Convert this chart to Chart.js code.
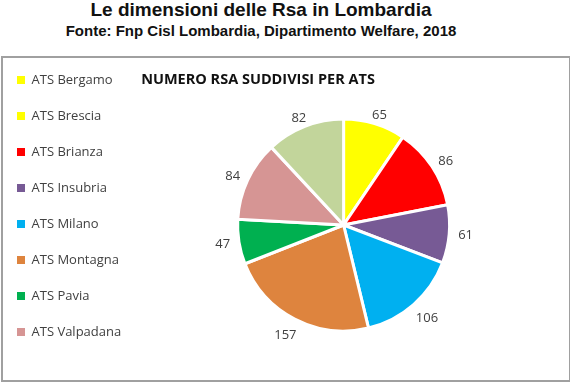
<!DOCTYPE html>
<html>
<head>
<meta charset="utf-8">
<script src="https://cdn.jsdelivr.net/npm/chart.js@4"></script>
<style>
  body { margin: 0; background: #fff; width: 570px; height: 382px; position: relative; overflow: hidden; }
  .titoli { position: absolute; left: 0; top: -1px; width: 522px; text-align: center; font-family: "Liberation Sans", Arial, sans-serif; font-weight: bold; color: #111; }
  .titoli .t1 { font-size: 19px; line-height: 22px; }
  .titoli .t2 { font-size: 15px; line-height: 20px; }
  .riquadro { position: absolute; left: 1px; top: 56px; width: 566px; height: 322px; border: 2px solid #a0a0a0; }
</style>
</head>
<body>
<div class="titoli">
  <div class="t1">Le dimensioni delle Rsa in Lombardia</div>
  <div class="t2">Fonte: Fnp Cisl Lombardia, Dipartimento Welfare, 2018</div>
</div>
<div class="riquadro">
  <canvas id="graficoRsa" width="566" height="322"></canvas>
</div>
<script>
// Dati
const categorie = ['ATS Bergamo', 'ATS Brescia', 'ATS Brianza', 'ATS Insubria', 'ATS Milano', 'ATS Montagna', 'ATS Pavia', 'ATS Valpadana'];
const valori = [65, 86, 61, 106, 157, 47, 84, 82];
const coloriFette = ['#FFFF00', '#FF0000', '#775A95', '#00B0F0', '#DE843E', '#00B050', '#D69594', '#C2D59B'];
// la legenda dell'originale ha colori sfasati rispetto alle fette
const coloriLegenda = ['#FFFF00', '#FFFF00', '#FF0000', '#775A95', '#00B0F0', '#DE843E', '#00B050', '#D69594'];

const fontBase = '"Open Sans", "Liberation Sans", sans-serif';

// etichette dei valori fuori dalle fette
const etichetteValori = {
    id: 'etichetteValori',
    afterLayout(chart) {
        // sposta un po' a destra il titolo interno
        if (chart.titleBlock) {
            chart.titleBlock.left += 10;
        }
    },
    afterDatasetsDraw(chart) {
        const ctx = chart.ctx;
        const meta = chart.getDatasetMeta(0);
        ctx.save();
        ctx.font = '13px ' + fontBase;
        ctx.fillStyle = '#404040';
        ctx.textAlign = 'center';
        ctx.textBaseline = 'middle';
        meta.data.forEach((arc, i) => {
            const p = arc.getProps(['x', 'y', 'startAngle', 'endAngle', 'outerRadius'], true);
            const mid = (p.startAngle + p.endAngle) / 2;
            const testo = String(valori[i]);
            const w = ctx.measureText(testo).width;
            const cos = Math.cos(mid), sin = Math.sin(mid);
            const cx = p.x + cos * (p.outerRadius + 9) + cos * (w / 2);
            const cy = p.y + sin * (p.outerRadius + 9) + (sin > 0 ? sin * 9 : 0);
            ctx.fillText(testo, cx, cy);
        });
        ctx.restore();
    }
};

function crearGraficoTorta(canvasId) {
    const ctx = document.getElementById(canvasId);
    if (!ctx) {
        console.error(`Canvas non trovato: ${canvasId}`);
        return;
    }
    new Chart(ctx, {
        type: 'pie',
        data: {
            labels: categorie,
            datasets: [{
                data: valori,
                backgroundColor: coloriFette,
                borderColor: '#ffffff',
                borderWidth: 3,
                radius: 106
            }]
        },
        options: {
            responsive: false,
            animation: false,
            layout: { padding: { top: -7.5, left: -9, right: 13, bottom: 17 } },
            plugins: {
                tooltip: { enabled: false },
                title: {
                    display: true,
                    text: 'NUMERO RSA SUDDIVISI PER ATS',
                    align: 'start',
                    fullSize: false,
                    color: '#111',
                    font: { family: fontBase, size: 14.5, weight: 'bold', lineHeight: 1.2 },
                    padding: { top: 20.5, bottom: -1.4 }
                },
                legend: {
                    position: 'left',
                    align: 'start',
                    labels: {
                        boxWidth: 8,
                        boxHeight: 8,
                        padding: 23,
                        color: '#404040',
                        font: { family: fontBase, size: 13 },
                        generateLabels: (chart) => categorie.map((c, i) => ({
                            text: c,
                            fillStyle: coloriLegenda[i],
                            strokeStyle: coloriLegenda[i],
                            lineWidth: 0,
                            fontColor: '#404040',
                            hidden: false,
                            index: i
                        }))
                    }
                }
            }
        },
        plugins: [etichetteValori]
    });
}

crearGraficoTorta('graficoRsa');
</script>
</body>
</html>
